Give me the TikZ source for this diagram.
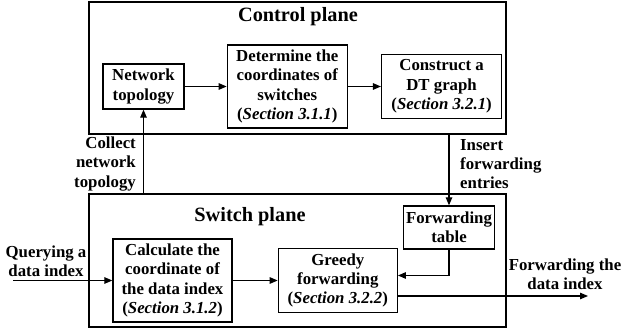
\documentclass[tikz,border=0pt]{standalone}
\usepackage{fontspec}
\setmainfont{Liberation Serif}
\usetikzlibrary{arrows.meta,positioning}
\tikzstyle{plane} = [rectangle, draw=black, line width=2pt]
\tikzstyle{block} = [rectangle, draw=black, line width=1.3pt, inner sep=2pt]
\tikzstyle{arrow} = [->, line width=1.2pt, >={Triangle[length=8pt,width=6.5pt]}]
\tikzstyle{title} = [font=\fontsize{20.3}{24}\selectfont\bfseries]

\begin{document}
\begin{tikzpicture}[x=1pt,y=1pt,every node/.style={font=\fontsize{16.8}{19.3}\selectfont\bfseries,align=center}]
\useasboundingbox (0,0) rectangle (621,332);

\node(ctrl)[plane,minimum width=417pt,minimum height=132pt] at (297.5,264) {};
\node(sw)[plane,minimum width=417pt,minimum height=133pt] at (297.5,71.5) {};
\node(ctitle)[title] at (298,315) {Control plane};
\node(stitle)[title] at (250,115) {Switch plane};

\node(net)[block,minimum width=81pt,minimum height=45pt] at (143.5,245.5) {Network\\topology};
\node(det)[block,minimum width=120pt,minimum height=83pt,right=42pt of net]{Determine the\\coordinates of\\switches\\(\textit{Section 3.1.1})};
\node(con)[block,minimum width=120pt,minimum height=64pt,right=33pt of det]{Construct a\\DT graph\\(\textit{Section 3.2.1})};

\node(calc)[block,minimum width=119pt,minimum height=83pt] at (172.5,51.5) {Calculate the\\coordinate of\\the data index\\(\textit{Section 3.1.2})};
\node(greedy)[block,minimum width=119pt,minimum height=64pt,right=45pt of calc]{Greedy\\forwarding\\(\textit{Section 3.2.2})};
\node(tab)[block,minimum width=91pt,minimum height=43pt] at (449,104.5) {Forwarding\\table};

\node(lcollect)[anchor=east,align=right,inner sep=0pt] at (136,168) {Collect\\network\\topology};
\node(linsert)[anchor=west,align=left,inner sep=0pt] at (460,168) {Insert\\forwarding\\entries};
\node(lquery)[inner sep=0pt] at (46,71) {Querying a\\data index};
\node(lout)[inner sep=0pt] at (565,58) {Forwarding the\\data index};

\coordinate(qin) at (13,51.5);
\coordinate(qout) at (588,36);

\draw[arrow] (net) -- (det);
\draw[arrow] (det) -- (con);
\draw[arrow] (net.south |- sw.north) -- (net.south);
\draw[arrow] (tab.north |- ctrl.south) -- (tab.north);
\draw[arrow] (qin) -- (calc.west);
\draw[arrow] (calc) -- (greedy);
\draw[arrow] (tab.south) |- ([yshift=5pt]greedy.east);
\draw[arrow] (greedy.east |- qout) -- (qout);

\end{tikzpicture}
\end{document}
